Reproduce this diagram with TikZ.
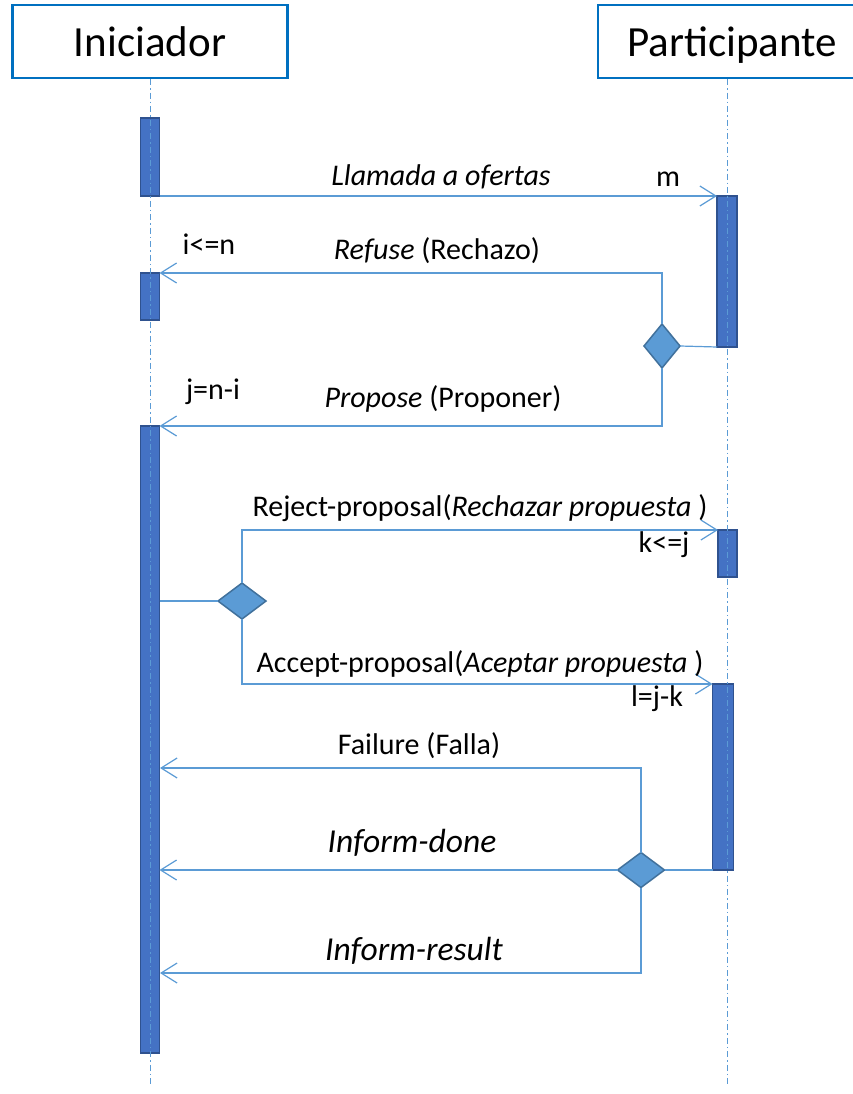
\documentclass[tikz,border=0pt]{standalone}
\usepackage{fontspec}
\setmainfont{Carlito}
\usetikzlibrary{shapes.geometric,arrows.meta}
\definecolor{boxblue}{HTML}{0070C0}
\definecolor{lineblue}{HTML}{5B9BD5}
\definecolor{barblue}{HTML}{4472C4}
\definecolor{bardark}{HTML}{2F528F}
\definecolor{diadark}{HTML}{41719C}
\tikzset{
  actor/.style={draw=boxblue,line width=2.5pt,minimum height=73pt,inner sep=0pt,text depth=0pt,font=\fontsize{43}{50}\selectfont},
  bar/.style={draw=bardark,fill=barblue,line width=1.5pt,minimum width=19pt,inner sep=0pt,outer sep=0pt},
  choice/.style={diamond,draw=diadark,fill=lineblue,line width=1.5pt,inner sep=0pt,outer sep=0pt},
  msg/.style={lineblue,line width=1.2pt,-{Straight Barb[length=16pt,width=20pt]}},
  link/.style={lineblue,line width=1.2pt},
  lifeline/.style={lineblue,line width=1pt,dash pattern=on 6pt off 3pt on 1.5pt off 3pt},
  lbl/.style={font=\fontsize{30}{36}\selectfont,inner sep=0pt},
  biglbl/.style={font=\fontsize{33.5}{40}\selectfont,inner sep=0pt}
}
\begin{document}
\begin{tikzpicture}[x=1pt,y=-1pt]
  \useasboundingbox (0,0) rectangle (853,1094);
  \clip (0,0) rectangle (853,1094);
  % actors
  \node[actor,minimum width=275pt] (ini) at (150,41.5) {Iniciador};
  \node[actor,minimum width=268pt] (par) at (732,41.5) {Participante};
  \coordinate (bottom) at (0,1085);
  % activation bars
  \node[bar,minimum height=78pt] (ib1) at (150,157) {};
  \node[bar,minimum height=47pt] (ib2) at (150,296.5) {};
  \node[bar,minimum height=627pt] (ib3) at (150,739.5) {};
  \node[bar,minimum width=20pt,minimum height=151pt] (pb1) at (727,271.5) {};
  \node[bar,minimum height=47pt] (pb2) at (727.5,553.5) {};
  \node[bar,minimum width=21pt,minimum height=186pt] (pb3) at (723,777) {};
  % lifelines
  \draw[lifeline] (ini.south) -- (ini.south |- bottom);
  \draw[lifeline] (par.south -| pb1) -- (pb1 |- bottom);
  % decisions
  \node[choice,minimum width=36pt,minimum height=44pt] (d1) at (662,346) {};
  \node[choice,minimum width=48pt,minimum height=36pt] (d2) at (242,601) {};
  \node[choice,minimum width=47pt,minimum height=35pt] (d3) at (641,870) {};
  \coordinate (fail) at (160,768);
  \coordinate (result) at (160,973);
  % messages
  \draw[msg] (ib1.south east) -- (pb1.north west);
  \draw[link] (pb1.south west) -- (d1.east);
  \draw[msg] (d1.north) |- (ib2.north east);
  \draw[msg] (d1.south) |- (ib3.north east);
  \draw[link] (ib3.east |- d2.west) -- (d2.west);
  \draw[msg] (d2.north) |- (pb2.north west);
  \draw[msg] (d2.south) |- (pb3.north west);
  \draw[link] (pb3.south west) -- (d3.east);
  \draw[msg] (d3.north) |- (fail);
  \draw[msg] (d3.west) -- (ib3.east |- d3.west);
  \draw[msg] (d3.south) |- (result);
  % labels
  \node[lbl] (llamada) at (441,177) {\textit{Llamada a ofertas}};
  \node[lbl] (m) at (668,179) {m};
  \node[lbl] (refuse) at (437,251) {\textit{Refuse} (Rechazo)};
  \node[lbl] (in) at (209,244) {i<=n};
  \node[lbl] (propose) at (443,399) {\textit{Propose} (Proponer)};
  \node[lbl] (jni) at (213,392) {j=n-i};
  \node[lbl] (reject) at (480,508) {Reject-proposal(\textit{Rechazar propuesta })};
  \node[lbl] (kj) at (664,545) {k<=j};
  \node[lbl] (accept) at (480,664) {Accept-proposal(\textit{Aceptar propuesta })};
  \node[lbl] (ljk) at (657,699) {l=j-k};
  \node[lbl] (failure) at (419,746) {Failure (Falla)};
  \node[biglbl] (done) at (412,843) {\textit{Inform-done}};
  \node[biglbl] (res) at (414,951) {\textit{Inform-result}};
\end{tikzpicture}
\end{document}
